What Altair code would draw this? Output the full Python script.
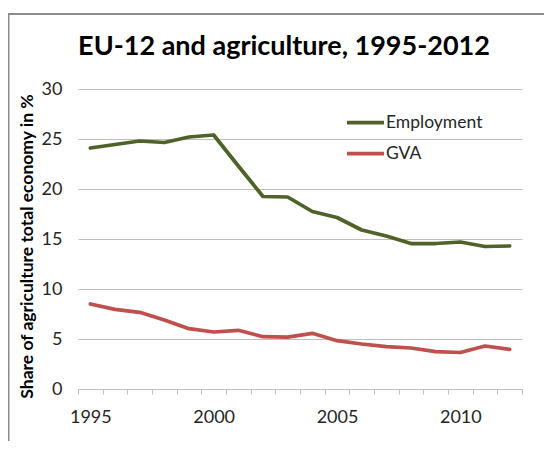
import altair as alt
import pandas as pd

years = list(range(1995, 2013))
employment = [24.1, 24.45, 24.8, 24.65, 25.2, 25.4, 22.3, 19.25, 19.2, 17.75, 17.15,
              15.9, 15.3, 14.55, 14.55, 14.7, 14.25, 14.3]
gva = [8.5, 7.97, 7.67, 6.9, 6.03, 5.7, 5.87, 5.23, 5.18, 5.57, 4.83,
       4.5, 4.23, 4.1, 3.73, 3.65, 4.3, 3.97]
series_names = ["Employment", "GVA"]
series_colors = ["#4F6228", "#C0504D"]
title_text = "EU-12 and agriculture, 1995-2012"
y_title = "Share of agriculture total economy in %"
y_ticks = [0, 5, 10, 15, 20, 25, 30]
x_label_years = [1995, 2000, 2005, 2010]

df = pd.DataFrame({
    "year": years * 2,
    "value": employment + gva,
    "series": [series_names[0]] * len(years) + [series_names[1]] * len(years),
})

W, H = 444, 300
FONT = "Lato"
boundaries = [y - 0.5 for y in years] + [years[-1] + 0.5]
label_cond = " || ".join(f"datum.value + 0.5 == {y}" for y in x_label_years)

lines = alt.Chart(df).mark_line(strokeWidth=3.75, strokeJoin="round", strokeCap="round").encode(
    x=alt.X("year:Q",
            scale=alt.Scale(domain=[years[0] - 0.5, years[-1] + 0.5], nice=False, zero=False),
            axis=alt.Axis(values=boundaries, title=None, grid=False,
                          labelExpr=f"({label_cond}) ? format(datum.value + 0.5, 'd') : ''",
                          labelOffset=W / len(years) / 2, labelOverlap=False, labelFlush=False,
                          labelBound=False, tickSize=5, labelPadding=14,
                          domainColor="#BFBFBF", tickColor="#BFBFBF", domainWidth=1)),
    y=alt.Y("value:Q", scale=alt.Scale(domain=[0, 30], nice=False),
            axis=alt.Axis(values=y_ticks, title=y_title, domain=False, ticks=False,
                          labelPadding=16, gridColor="#BFBFBF", gridWidth=1,
                          titleX=-51, titleY=157, titleBaseline="middle",
                          titleFont=FONT, titleFontSize=17.5, titleFontWeight="bold",
                          titleColor="#000000")),
    color=alt.Color("series:N", scale=alt.Scale(domain=series_names, range=series_colors),
                    legend=alt.Legend(title=None, orient="none", legendX=267, legendY=13,
                                      symbolType="stroke", symbolSize=1369, symbolStrokeWidth=3.75,
                                      labelFont=FONT, labelFontSize=17.5, labelColor="#262626",
                                      labelOffset=0, padding=0, rowPadding=2)),
)

frame = alt.Chart(pd.DataFrame({"f": [0]})).mark_rect(
    fill="white", fillOpacity=0, stroke="#8C8C8C", strokeWidth=2
).encode(
    x=alt.value(-69.5), x2=alt.value(W + 200),
    y=alt.value(-75), y2=alt.value(H + 200),
)

chart = alt.layer(frame, lines).properties(
    width=W, height=H,
    title=alt.TitleParams(title_text, font=FONT, fontSize=27, fontWeight="bold", color="#000000",
                          anchor="middle", frame="group", dx=-16, baseline="alphabetic", offset=-69),
    autosize=alt.AutoSizeParams(type="none"),
    padding={"left": 70, "top": 81, "right": 22, "bottom": 52},
).configure_view(stroke=None).configure_axis(
    labelFont=FONT, labelFontSize=18, labelColor="#262626"
)

chart.save("out.html", embed_options={"renderer": "svg", "actions": False})
